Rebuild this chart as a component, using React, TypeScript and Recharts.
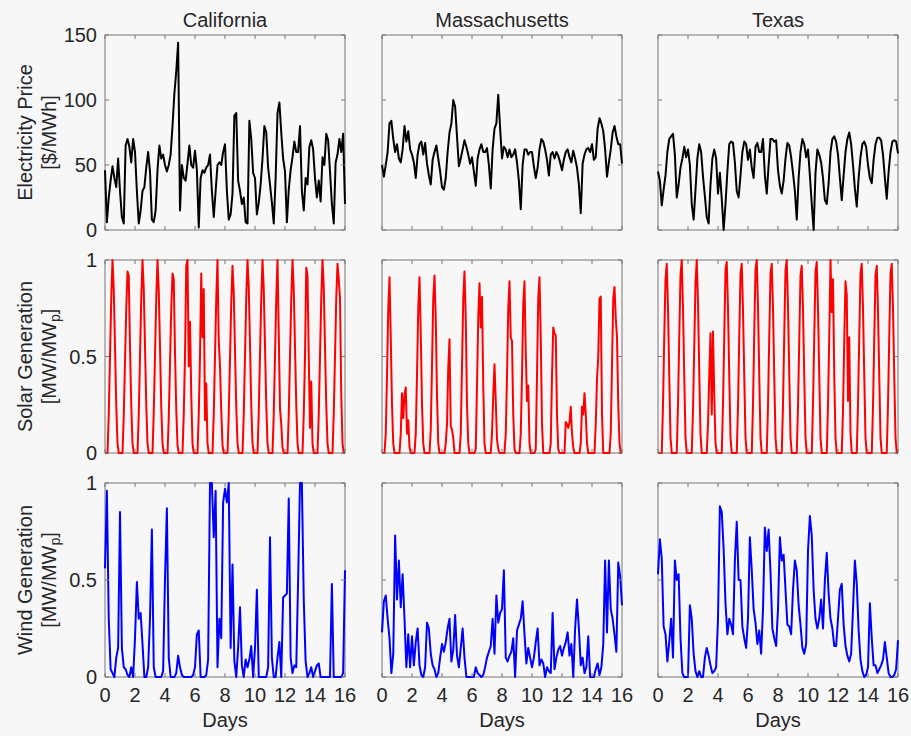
import React from 'react';
import { LineChart, Line, XAxis, YAxis, ReferenceArea } from 'recharts';

const FONT = '"Liberation Sans", Arial, Helvetica, sans-serif';
const TEXT = '#262626';
const AXIS = '#777777';
const BG = '#f7f7f7';

const states = ['California', 'Massachusetts', 'Texas'];
const dayTicks = [0, 2, 4, 6, 8, 10, 12, 14, 16];
const priceTicks = [0, 50, 100, 150];
const genTicks = [0, 0.5, 1];
const xLabel = 'Days';

// sampling steps (days)
const priceStep = 3 / 24;
const solarStep = 2 / 24;
const windStep = 3 / 24;

// Electricity price [$/MWh], 3-hourly
const caPrice = [
  46, 6, 25, 38, 49, 40, 33, 55,
  30, 10, 5, 65, 70, 64, 52, 70,
  60, 30, 5, 15, 30, 33, 48, 60,
  45, 8, 6, 15, 46, 65, 55, 58,
  50, 45, 50, 58, 80, 105, 122, 144,
  15, 50, 40, 38, 51, 65, 50, 48,
  61, 46, 2, 40, 46, 44, 48, 50,
  58, 30, 10, 30, 50, 52, 50, 60,
  66, 30, 8, 12, 28, 88, 90, 38,
  30, 20, 25, 6, 5, 84, 70, 44,
  40, 12, 21, 35, 55, 80, 75, 48,
  35, 21, 5, 40, 90, 98, 75, 55,
  45, 6, 31, 46, 56, 68, 60, 60,
  80, 30, 15, 40, 35, 64, 69, 62,
  40, 25, 38, 22, 56, 50, 74, 69,
  45, 20, 5, 52, 58, 70, 60, 74,
  20,
];
const maPrice = [
  50, 41, 50, 60, 82, 84, 70, 60,
  66, 55, 52, 62, 80, 68, 76, 62,
  58, 52, 40, 58, 66, 68, 58, 67,
  51, 42, 35, 54, 60, 65, 55, 45,
  33, 31, 40, 60, 75, 82, 100, 95,
  72, 49, 55, 62, 69, 64, 58, 51,
  56, 45, 34, 55, 62, 66, 60, 60,
  63, 50, 32, 62, 78, 82, 104, 78,
  55, 64, 62, 56, 62, 56, 58, 62,
  52, 38, 16, 50, 62, 62, 58, 60,
  60, 49, 40, 48, 62, 70, 68, 62,
  54, 42, 58, 60, 55, 60, 57, 52,
  46, 54, 60, 62, 56, 52, 61, 55,
  48, 35, 13, 51, 58, 62, 63, 60,
  66, 54, 56, 78, 86, 82, 76, 62,
  41, 52, 62, 75, 80, 72, 66, 66,
  51,
];
const txPrice = [
  45, 38, 19, 31, 42, 60, 70, 72,
  74, 58, 25, 35, 48, 55, 64, 56,
  62, 50, 20, 8, 31, 55, 66, 60,
  41, 26, 10, 5, 35, 55, 62, 55,
  28, 44, 24, 0, 20, 45, 66, 68,
  67, 52, 30, 25, 42, 60, 68, 66,
  54, 62, 48, 40, 64, 67, 60, 60,
  70, 42, 28, 50, 70, 70, 68, 69,
  46, 34, 28, 38, 55, 67, 65, 56,
  44, 30, 8, 40, 60, 70, 66, 56,
  62, 42, 20, 0, 44, 62, 58, 52,
  40, 23, 20, 36, 60, 70, 72, 68,
  58, 40, 23, 42, 60, 70, 75, 66,
  50, 32, 18, 40, 56, 66, 68, 64,
  50, 40, 36, 54, 66, 71, 71, 69,
  58, 40, 24, 45, 60, 68, 69, 68,
  59,
];

// Solar generation [MW/MWp], 2-hourly
const caSolar = [
  0, 0, 0, 0.2, 0.5, 0.8, 1, 0.85, 0.55, 0.25, 0.05, 0,
  0, 0, 0, 0.19, 0.47, 0.75, 0.94, 0.92, 0.55, 0.25, 0.05, 0,
  0, 0, 0, 0.2, 0.5, 0.8, 1, 0.85, 0.55, 0.25, 0.05, 0,
  0, 0, 0, 0.21, 0.5, 0.8, 1, 0.84, 0.55, 0.24, 0.05, 0,
  0, 0, 0, 0.18, 0.46, 0.75, 0.93, 0.9, 0.52, 0.23, 0.04, 0,
  0, 0, 0, 0.2, 0.5, 0.97, 1, 0.45, 0.68, 0.3, 0.05, 0,
  0, 0, 0, 0.2, 0.5, 0.93, 0.6, 0.85, 0.17, 0.36, 0.05, 0,
  0, 0, 0, 0.2, 0.5, 0.8, 1, 0.58, 0.45, 0.22, 0.04, 0,
  0, 0, 0, 0.2, 0.49, 0.78, 0.97, 0.83, 0.53, 0.24, 0.05, 0,
  0, 0, 0, 0.2, 0.5, 0.81, 1, 0.86, 0.56, 0.25, 0.05, 0,
  0, 0, 0, 0.21, 0.51, 0.8, 1, 0.85, 0.55, 0.25, 0.05, 0,
  0, 0, 0, 0.2, 0.5, 0.8, 1, 0.62, 0.23, 0.15, 0.03, 0,
  0, 0, 0, 0.2, 0.5, 0.8, 1, 0.85, 0.55, 0.25, 0.05, 0,
  0, 0, 0, 0.2, 0.5, 0.96, 0.92, 0.5, 0.13, 0.37, 0.05, 0,
  0, 0, 0, 0.2, 0.5, 0.8, 1, 0.86, 0.55, 0.25, 0.05, 0,
  0, 0, 0, 0.2, 0.5, 0.8, 0.98, 0.9, 0.8, 0.3, 0.05, 0,
  0,
];
const maSolar = [
  0, 0, 0, 0.1, 0.4, 0.75, 0.91, 0.6, 0.25, 0.05, 0, 0,
  0, 0, 0, 0.1, 0.31, 0.18, 0.3, 0.34, 0.1, 0.17, 0.03, 0,
  0, 0, 0, 0.1, 0.4, 0.75, 0.91, 0.62, 0.25, 0.05, 0, 0,
  0, 0, 0, 0.12, 0.45, 0.8, 0.92, 0.7, 0.3, 0.05, 0, 0,
  0, 0, 0, 0.05, 0.15, 0.44, 0.59, 0.14, 0.12, 0.08, 0, 0,
  0, 0, 0, 0.1, 0.45, 0.8, 0.94, 0.7, 0.25, 0.05, 0, 0,
  0, 0, 0, 0.02, 0.35, 0.7, 0.88, 0.65, 0.81, 0.35, 0.05, 0,
  0, 0, 0, 0, 0.1, 0.3, 0.46, 0.27, 0.07, 0.02, 0, 0,
  0, 0, 0, 0.1, 0.4, 0.75, 0.89, 0.6, 0.58, 0.2, 0.02, 0,
  0, 0, 0, 0.1, 0.4, 0.77, 0.89, 0.52, 0.27, 0.35, 0.05, 0,
  0, 0, 0, 0.02, 0.4, 0.8, 0.91, 0.6, 0.15, 0, 0, 0,
  0, 0, 0, 0.05, 0.4, 0.65, 0.62, 0.61, 0.2, 0.02, 0, 0,
  0, 0, 0, 0.16, 0.15, 0.13, 0.16, 0.24, 0.1, 0.03, 0, 0,
  0, 0, 0, 0.05, 0.24, 0.2, 0.31, 0.2, 0.05, 0, 0, 0,
  0, 0, 0, 0.15, 0.38, 0.5, 0.8, 0.81, 0.2, 0, 0, 0,
  0, 0, 0, 0.1, 0.45, 0.8, 0.86, 0.7, 0.6, 0.25, 0.05, 0,
  0,
];
const txSolar = [
  0, 0, 0, 0, 0.25, 0.6, 0.9, 0.98, 0.75, 0.4, 0.08, 0,
  0, 0, 0, 0, 0.25, 0.6, 0.92, 1, 0.75, 0.4, 0.08, 0,
  0, 0, 0, 0, 0.22, 0.55, 0.88, 1, 0.78, 0.42, 0.1, 0,
  0, 0, 0, 0, 0.15, 0.4, 0.62, 0.2, 0.63, 0.3, 0.05, 0,
  0, 0, 0, 0, 0.25, 0.6, 0.95, 0.99, 0.75, 0.4, 0.08, 0,
  0, 0, 0, 0, 0.24, 0.6, 0.93, 0.98, 0.74, 0.4, 0.08, 0,
  0, 0, 0, 0, 0.25, 0.62, 0.95, 1, 0.76, 0.4, 0.08, 0,
  0, 0, 0, 0, 0.24, 0.6, 0.93, 0.98, 0.75, 0.4, 0.08, 0,
  0, 0, 0, 0, 0.25, 0.61, 0.95, 1, 0.76, 0.41, 0.08, 0,
  0, 0, 0, 0, 0.24, 0.58, 0.92, 0.97, 0.74, 0.4, 0.08, 0,
  0, 0, 0, 0, 0.25, 0.6, 0.94, 0.99, 0.75, 0.4, 0.08, 0,
  0, 0, 0, 0, 0.25, 0.6, 1, 0.73, 0.9, 0.4, 0.08, 0,
  0, 0, 0, 0, 0.22, 0.58, 0.89, 0.82, 0.27, 0.6, 0.1, 0,
  0, 0, 0, 0, 0.25, 0.6, 0.93, 0.98, 0.75, 0.4, 0.08, 0,
  0, 0, 0, 0, 0.24, 0.59, 0.92, 0.97, 0.74, 0.4, 0.08, 0,
  0, 0, 0, 0, 0.25, 0.6, 0.93, 0.98, 0.75, 0.4, 0.08, 0,
  0,
];

// Wind generation [MW/MWp], 3-hourly
const caWind = [
  0.56, 0.96, 0.3, 0.04, 0.02, 0, 0.1, 0.15,
  0.85, 0.15, 0.05, 0.04, 0.01, 0, 0.05, 0,
  0.2, 0.49, 0.3, 0.33, 0.17, 0, 0, 0.05,
  0.3, 0.76, 0.05, 0, 0, 0, 0, 0.03,
  0.51, 0.87, 0.1, 0, 0, 0, 0.02, 0.11,
  0.05, 0.01, 0, 0, 0, 0, 0, 0.01,
  0.05, 0.22, 0.24, 0, 0, 0, 0.01, 0.09,
  1, 1, 0.72, 0.96, 0.05, 0.3, 0.2, 0.9,
  0.97, 0.9, 1, 0.15, 0.58, 0.08, 0, 0.15,
  0.36, 0.06, 0, 0.09, 0.05, 0.09, 0.16, 0,
  0.15, 0.45, 0, 0, 0, 0, 0, 0.05,
  0.72, 0.1, 0, 0, 0.1, 0.18, 0, 0.41,
  0.42, 0.43, 0.92, 0.1, 0.02, 0.06, 0.05, 0.5,
  1, 1, 0.4, 0.08, 0, 0.02, 0.05, 0,
  0.03, 0.06, 0.07, 0, 0, 0, 0, 0,
  0, 0.48, 0, 0, 0, 0, 0, 0.02,
  0.55,
];
const maWind = [
  0.23, 0.39, 0.42, 0.3, 0.2, 0.02, 0.12, 0.73,
  0.4, 0.6, 0.36, 0.53, 0.3, 0.05, 0.22, 0.05,
  0.21, 0.06, 0.18, 0.25, 0.06, 0.01, 0, 0.05,
  0.28, 0.25, 0.12, 0.06, 0.04, 0, 0.02, 0.1,
  0.17, 0.13, 0.18, 0.25, 0.3, 0.08, 0.14, 0.32,
  0.11, 0.05, 0.15, 0.25, 0.1, 0, 0, 0,
  0, 0, 0.05, 0.02, 0.01, 0, 0.01, 0.05,
  0.1, 0.13, 0.16, 0.3, 0.12, 0.42, 0.28, 0.33,
  0.35, 0.55, 0.1, 0.08, 0.11, 0.13, 0.2, 0,
  0.24, 0.27, 0.3, 0.39, 0.22, 0.07, 0.15, 0.1,
  0.05, 0.1, 0.18, 0.25, 0.06, 0.09, 0.07, 0,
  0.05, 0.03, 0.02, 0.33, 0.04, 0.1, 0.14, 0.16,
  0.11, 0.15, 0.18, 0.23, 0.11, 0.17, 0, 0.25,
  0.4, 0.25, 0.06, 0.1, 0.02, 0.05, 0.21, 0,
  0, 0, 0.04, 0.07, 0.01, 0.05, 0.17, 0.6,
  0.23, 0.6, 0.35, 0.3, 0.22, 0.13, 0.59, 0.52,
  0.37,
];
const txWind = [
  0.53, 0.71, 0.61, 0.26, 0.22, 0.08, 0.18, 0.3,
  0.1, 0.6, 0.5, 0.53, 0.2, 0.02, 0, 0,
  0, 0.37, 0.3, 0.12, 0.03, 0, 0.03, 0,
  0, 0.1, 0.15, 0.11, 0.06, 0.02, 0.03, 0.05,
  0.3, 0.88, 0.85, 0.66, 0.38, 0.22, 0.3, 0.27,
  0.22, 0.6, 0.8, 0.5, 0.5, 0.26, 0.2, 0.15,
  0.3, 0.72, 0.55, 0.35, 0.28, 0.17, 0.24, 0.12,
  0.35, 0.77, 0.65, 0.76, 0.54, 0.25, 0.2, 0.16,
  0.35, 0.72, 0.6, 0.63, 0.45, 0.27, 0.26, 0.22,
  0.45, 0.6, 0.55, 0.37, 0.27, 0.15, 0.12, 0.17,
  0.65, 0.83, 0.73, 0.45, 0.3, 0.25, 0.3, 0.4,
  0.25, 0.5, 0.64, 0.43, 0.3, 0.25, 0.16, 0.16,
  0.3, 0.45, 0.48, 0.27, 0.16, 0.11, 0.08, 0.12,
  0.35, 0.6, 0.48, 0.24, 0.09, 0.03, 0, 0.01,
  0.05, 0.38, 0.2, 0.06, 0.06, 0.02, 0.04, 0.06,
  0.09, 0.18, 0.1, 0.02, 0, 0, 0.01, 0.04,
  0.19,
];

const rowsDef = [
  { label1: 'Electricity Price', label2: '[$/MWh]', sub: '', max: 150, ticks: priceTicks, color: '#000000', step: priceStep, series: [caPrice, maPrice, txPrice] },
  { label1: 'Solar Generation', label2: '[MW/MW', sub: 'p', max: 1, ticks: genTicks, color: '#ff0000', step: solarStep, series: [caSolar, maSolar, txSolar] },
  { label1: 'Wind Generation', label2: '[MW/MW', sub: 'p', max: 1, ticks: genTicks, color: '#0000ff', step: windStep, series: [caWind, maWind, txWind] },
];

// layout
const plotLeft = [105, 382, 658];
const plotTop = [35, 260, 483];
const plotHeight = [195, 193, 194];
const PLOT_W = 240;
const YW = 50;
const MT = 12;
const MR = 16;
const XH = 44;
const FS = 20;
const TICK = 4;

function Panel({ r, c }: { r: number; c: number }) {
  const def = rowsDef[r];
  const values = def.series[c];
  const data = values.map((v, i) => ({ t: i * def.step, v }));
  const ph = plotHeight[r];
  const showX = r === 2;
  const showY = c === 0;
  const top = MT;
  const bottom = MT + ph;
  const left = YW;
  const right = YW + PLOT_W;

  const xTick = (p: any) => (
    <g>
      <line x1={p.x} x2={p.x} y1={bottom} y2={bottom - TICK} stroke={AXIS} strokeWidth={1} />
      <line x1={p.x} x2={p.x} y1={top} y2={top + TICK} stroke={AXIS} strokeWidth={1} />
      {showX && (
        <text x={p.x} y={bottom + 25} textAnchor="middle" fontFamily={FONT} fontSize={FS} fill={TEXT}>
          {p.payload.value}
        </text>
      )}
    </g>
  );
  const yTick = (p: any) => (
    <g>
      <line x1={left} x2={left + TICK} y1={p.y} y2={p.y} stroke={AXIS} strokeWidth={1} />
      <line x1={right} x2={right - TICK} y1={p.y} y2={p.y} stroke={AXIS} strokeWidth={1} />
      {showY && (
        <text x={left - 8} y={p.y} dy="0.36em" textAnchor="end" fontFamily={FONT} fontSize={FS} fill={TEXT}>
          {p.payload.value}
        </text>
      )}
    </g>
  );

  return (
    <div style={{ position: 'absolute', left: plotLeft[c] - YW, top: plotTop[r] - MT }}>
      <LineChart
        width={YW + PLOT_W + MR}
        height={MT + ph + XH}
        data={data}
        margin={{ top: MT, right: MR, bottom: 0, left: 0 }}
      >
        <XAxis
          dataKey="t"
          type="number"
          domain={[0, 16]}
          ticks={dayTicks}
          interval={0}
          tickSize={0}
          tickMargin={0}
          axisLine={false}
          tickLine={false}
          tick={xTick}
          height={XH}
        />
        <YAxis
          type="number"
          domain={[0, def.max]}
          ticks={def.ticks}
          interval={0}
          tickSize={0}
          tickMargin={0}
          axisLine={false}
          tickLine={false}
          tick={yTick}
          width={YW}
        />
        <ReferenceArea x1={0} x2={16} y1={0} y2={def.max} fill="none" fillOpacity={0} stroke={AXIS} strokeWidth={1} />
        <Line
          dataKey="v"
          type="linear"
          stroke={def.color}
          strokeWidth={2}
          strokeLinejoin="round"
          dot={false}
          activeDot={false}
          isAnimationActive={false}
        />
      </LineChart>
    </div>
  );
}

export default function App() {
  const colCenters = plotLeft.map((l) => l + PLOT_W / 2);
  return (
    <div style={{ position: 'absolute', left: 0, top: 0, width: 911, height: 736, background: BG, overflow: 'hidden' }}>
      {[0, 1, 2].map((r) => [0, 1, 2].map((c) => <Panel key={`${r}-${c}`} r={r} c={c} />))}
      <svg width={911} height={736} style={{ position: 'absolute', left: 0, top: 0, pointerEvents: 'none' }}>
        {states.map((s, c) => (
          <text key={s} x={colCenters[c]} y={27} textAnchor="middle" fontFamily={FONT} fontSize={FS} fill={TEXT}>
            {s}
          </text>
        ))}
        {colCenters.map((cx, c) => (
          <text key={`d${c}`} x={cx} y={727} textAnchor="middle" fontFamily={FONT} fontSize={FS} fill={TEXT}>
            {xLabel}
          </text>
        ))}
        {rowsDef.map((d, r) => {
          const yc = plotTop[r] + plotHeight[r] / 2;
          return (
            <g key={`yl${r}`}>
              <text transform={`translate(32,${yc}) rotate(-90)`} textAnchor="middle" fontFamily={FONT} fontSize={FS} fill={TEXT}>
                {d.label1}
              </text>
              <text transform={`translate(56,${yc}) rotate(-90)`} textAnchor="middle" fontFamily={FONT} fontSize={FS} fill={TEXT}>
                {d.sub ? (
                  <>
                    <tspan>{d.label2}</tspan>
                    <tspan fontSize={14} dy={4}>{d.sub}</tspan>
                    <tspan dy={-4}>]</tspan>
                  </>
                ) : (
                  d.label2
                )}
              </text>
            </g>
          );
        })}
      </svg>
    </div>
  );
}
